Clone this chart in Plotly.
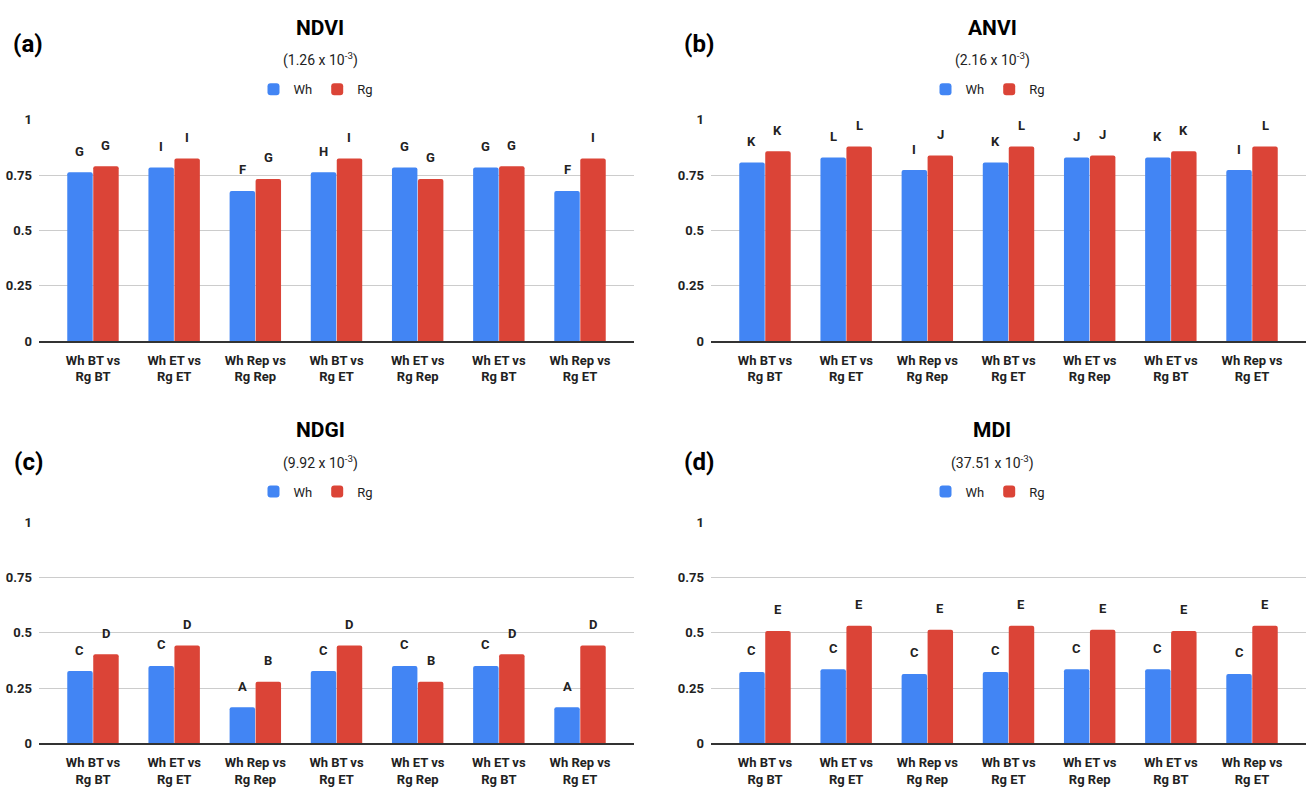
import plotly.graph_objects as go

# Comparison groups (x categories)
categories = [
    "Wh BT vs<br>Rg BT",
    "Wh ET vs<br>Rg ET",
    "Wh Rep vs<br>Rg Rep",
    "Wh BT vs<br>Rg ET",
    "Wh ET vs<br>Rg Rep",
    "Wh ET vs<br>Rg BT",
    "Wh Rep vs<br>Rg ET",
]

# NDVI
ndvi_wh = [0.763, 0.785, 0.679, 0.763, 0.785, 0.785, 0.679]
ndvi_rg = [0.790, 0.825, 0.733, 0.825, 0.733, 0.790, 0.825]
ndvi_wh_grp = ["G", "I", "F", "H", "G", "G", "F"]
ndvi_rg_grp = ["G", "I", "G", "I", "G", "G", "I"]

# ANVI
anvi_wh = [0.807, 0.830, 0.773, 0.807, 0.830, 0.830, 0.773]
anvi_rg = [0.858, 0.879, 0.839, 0.879, 0.839, 0.858, 0.879]
anvi_wh_grp = ["K", "L", "I", "K", "J", "K", "I"]
anvi_rg_grp = ["K", "L", "J", "L", "J", "K", "L"]

# NDGI
ndgi_wh = [0.327, 0.350, 0.164, 0.327, 0.350, 0.350, 0.164]
ndgi_rg = [0.403, 0.443, 0.279, 0.443, 0.279, 0.403, 0.443]
ndgi_wh_grp = ["C", "C", "A", "C", "C", "C", "A"]
ndgi_rg_grp = ["D", "D", "B", "D", "B", "D", "D"]

# MDI
mdi_wh = [0.323, 0.335, 0.314, 0.323, 0.335, 0.335, 0.314]
mdi_rg = [0.508, 0.532, 0.514, 0.532, 0.514, 0.508, 0.532]
mdi_wh_grp = ["C", "C", "C", "C", "C", "C", "C"]
mdi_rg_grp = ["E", "E", "E", "E", "E", "E", "E"]

y_ticks = [0, 0.25, 0.5, 0.75, 1]
y_ticktext = ["0", "0.25", "0.5", "0.75", "1"]

panels = [
    dict(tag="(a)", title="NDVI", sub="(1.26 x 10<sup>-3</sup>)",
         wh=ndvi_wh, rg=ndvi_rg, whg=ndvi_wh_grp, rgg=ndvi_rg_grp),
    dict(tag="(b)", title="ANVI", sub="(2.16 x 10<sup>-3</sup>)",
         wh=anvi_wh, rg=anvi_rg, whg=anvi_wh_grp, rgg=anvi_rg_grp),
    dict(tag="(c)", title="NDGI", sub="(9.92 x 10<sup>-3</sup>)",
         wh=ndgi_wh, rg=ndgi_rg, whg=ndgi_wh_grp, rgg=ndgi_rg_grp),
    dict(tag="(d)", title="MDI", sub="(37.51 x 10<sup>-3</sup>)",
         wh=mdi_wh, rg=mdi_rg, whg=mdi_wh_grp, rgg=mdi_rg_grp),
]

W, H = 1308, 792
BLUE = "#4285F4"
RED = "#DB4437"
FONT = "Roboto"
TXT = "#222222"

# pixel layout of the 2x2 grid
col_left = [39, 711]
row_top = [115, 525]
plot_w = 595
plot_h = 225.7
title_cx = [320, 992]
legend_cx = [316, 988]
tag_x = [28, 699]
row_offset = [0, 410]

BARGAP = 0.36
half = (1 - BARGAP) / 4  # centre offset of each bar within a group

fig = go.Figure()
layout = dict(
    width=W, height=H, margin=dict(l=0, r=0, t=0, b=0),
    paper_bgcolor="white", plot_bgcolor="white",
    barmode="group", bargap=BARGAP, bargroupgap=0.02,
    font=dict(family=FONT, color=TXT),
)
annotations = []

for k, p in enumerate(panels):
    r, c = divmod(k, 2)
    ax = "" if k == 0 else str(k + 1)
    xa, ya = "x" + ax, "y" + ax
    leg = "legend" if k == 0 else "legend" + str(k + 1)

    for name, vals, color in (("Wh", p["wh"], BLUE), ("Rg", p["rg"], RED)):
        fig.add_trace(go.Bar(
            x=categories, y=vals, name=name, xaxis=xa, yaxis=ya,
            marker=dict(color=color, cornerradius=2, line=dict(width=0)),
            legend=leg, showlegend=True, hoverinfo="skip",
        ))

    x0 = col_left[c] / W
    x1 = (col_left[c] + plot_w) / W
    y1 = 1 - row_top[r] / H
    y0 = 1 - (row_top[r] + plot_h) / H

    layout["xaxis" + ax] = dict(
        domain=[x0, x1], anchor=ya, type="category",
        range=[-0.665, 6.665], showgrid=False, zeroline=False,
        showline=True, linecolor="#333333", linewidth=1.5,
        ticks="", ticklabelstandoff=6,
        tickfont=dict(family=FONT, size=13, weight=700, color=TXT),
        fixedrange=True,
    )
    layout["yaxis" + ax] = dict(
        domain=[y0, y1], anchor=xa, range=[0, 1],
        tickvals=y_ticks, ticktext=y_ticktext,
        showgrid=True, gridcolor="#cccccc", gridwidth=1,
        zeroline=False, showline=False, ticks="", ticklabelstandoff=6,
        tickfont=dict(family=FONT, size=13, weight=700, color=TXT),
        fixedrange=True,
    )

    layout[leg] = dict(
        x=legend_cx[c] / W, y=1 - (84 + row_offset[r]) / H,
        xanchor="center", yanchor="middle", orientation="h",
        font=dict(family=FONT, size=13, color=TXT),
        bgcolor="rgba(0,0,0,0)", itemwidth=30, traceorder="normal",
    )

    # panel title, subtitle and tag
    annotations.append(dict(
        text=p["title"], xref="paper", yref="paper",
        x=title_cx[c] / W, y=1 - (21 + row_offset[r]) / H,
        xanchor="center", yanchor="middle", showarrow=False,
        font=dict(family=FONT, size=21, weight=700, color="#000000"),
    ))
    annotations.append(dict(
        text=p["sub"], xref="paper", yref="paper",
        x=title_cx[c] / W, y=1 - (54 + row_offset[r]) / H,
        xanchor="center", yanchor="middle", showarrow=False,
        font=dict(family=FONT, size=14, color=TXT),
    ))
    annotations.append(dict(
        text=p["tag"], xref="paper", yref="paper",
        x=tag_x[c] / W, y=1 - ((38 if r == 0 else 54) + row_offset[r]) / H,
        xanchor="center", yanchor="middle", showarrow=False,
        font=dict(family=FONT, size=24, weight=700, color="#000000"),
    ))

    # significance letters above each bar
    for i in range(len(categories)):
        for vals, grp, sgn in ((p["wh"], p["whg"], -1), (p["rg"], p["rgg"], 1)):
            annotations.append(dict(
                text=grp[i], xref=xa, yref=ya,
                x=i + sgn * half, y=vals[i], yshift=21,
                xanchor="center", yanchor="middle", showarrow=False,
                font=dict(family=FONT, size=13, weight=700, color=TXT),
            ))

layout["annotations"] = annotations
fig.update_layout(**layout)
fig.write_html("out.html")
